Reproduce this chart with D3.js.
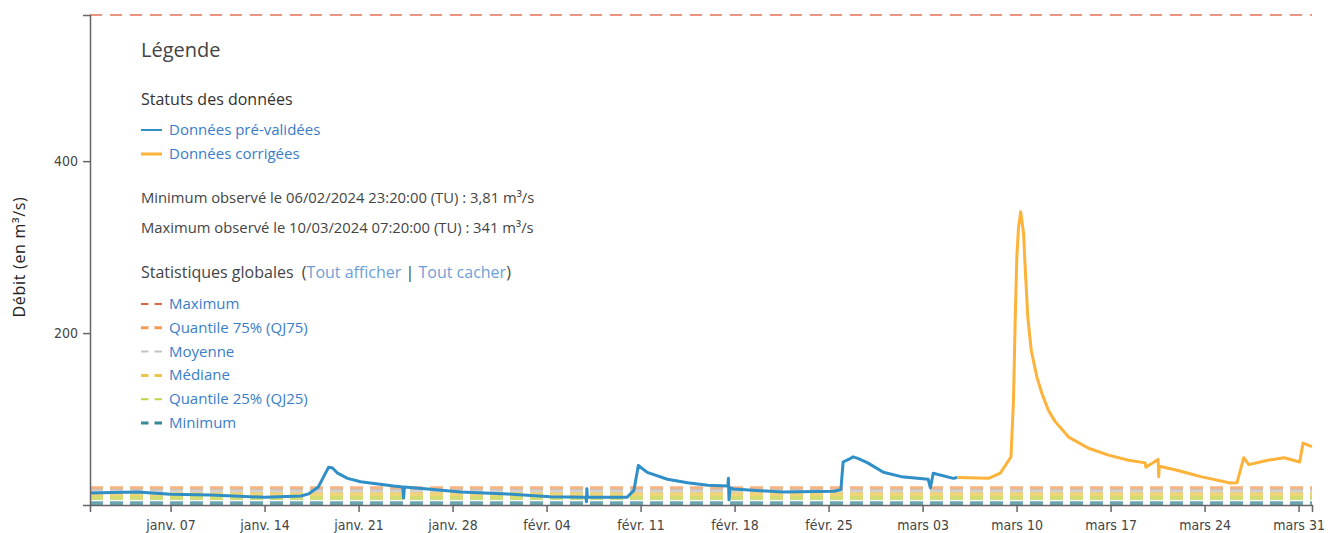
<!DOCTYPE html>
<meta charset="utf-8">
<style>
body { margin: 0; background: #fff; }
.axis text { font-family: "Liberation Sans Narrow", "DejaVu Sans Condensed", sans-serif; font-size: 14px; fill: #444; }
.axis path, .axis line { stroke: #666; stroke-width: 1.5px; }
.leg { font-family: "Open Sans", "Noto Sans", sans-serif; }
.link { fill: #3a7dc9; }
</style>
<body>
<script src="https://cdn.jsdelivr.net/npm/d3@7"></script>
<script>

// débits pré-validés (bleu)
var preDates = ["2024-01-01T00:00","2024-01-04T12:00","2024-01-07T00:00","2024-01-10T00:00","2024-01-14T00:00",
  "2024-01-16T17:00","2024-01-17T07:00","2024-01-18T00:00","2024-01-18T09:40","2024-01-18T18:30","2024-01-19T01:30",
  "2024-01-19T10:30","2024-01-20T04:20","2024-01-21T03:40","2024-01-23T14:30","2024-01-24T07:00","2024-01-24T08:30",
  "2024-01-24T10:00","2024-01-26T03:20","2024-01-28T14:30","2024-02-01T02:30","2024-02-04T07:00","2024-02-06T22:00",
  "2024-02-06T23:20","2024-02-07T00:00","2024-02-07T01:00","2024-02-10T00:00","2024-02-10T12:00","2024-02-10T17:00",
  "2024-02-10T20:00","2024-02-11T12:00","2024-02-13T00:00","2024-02-14T12:00","2024-02-16T00:00","2024-02-17T12:00",
  "2024-02-17T13:00","2024-02-17T14:00","2024-02-17T16:00","2024-02-17T22:00","2024-02-21T14:00","2024-02-25T10:00",
  "2024-02-25T22:00","2024-02-26T02:00","2024-02-26T11:45","2024-02-26T20:00","2024-02-27T05:30","2024-02-27T22:00",
  "2024-02-29T02:00","2024-03-01T10:00","2024-03-03T10:00","2024-03-03T14:00","2024-03-03T19:00","2024-03-05T07:00",
  "2024-03-05T14:00"];
var preValues = [14,15,12.5,11.5,9, 10.5,13,21,33,44,43, 37,31,27,22,21,8,
  21,18.6,15,12.8,9.5,9, 3.81,19,9,9,17,35, 46,38,30,26,23,22,
  31,6,20,18.6,15,16, 18,50,53,56,54,49, 38,33,30,20,37,31, 32];

// débits corrigés (orange)
var corDates = ["2024-03-05T14:00","2024-03-07T22:00","2024-03-08T19:00","2024-03-09T01:00","2024-03-09T14:00",
  "2024-03-09T18:30","2024-03-09T21:40","2024-03-10T00:30","2024-03-10T03:30","2024-03-10T07:20","2024-03-10T12:30",
  "2024-03-10T15:20","2024-03-10T20:00","2024-03-11T02:10","2024-03-11T12:15","2024-03-11T21:10","2024-03-12T09:00",
  "2024-03-12T21:00","2024-03-13T21:00","2024-03-15T08:40","2024-03-16T20:20","2024-03-18T08:10","2024-03-19T14:00",
  "2024-03-19T15:00","2024-03-20T13:00","2024-03-20T14:00","2024-03-20T15:00","2024-03-21T19:00","2024-03-22T19:00",
  "2024-03-23T17:00","2024-03-25T22:00","2024-03-26T10:00","2024-03-26T22:00","2024-03-27T07:00","2024-03-28T17:00",
  "2024-03-29T22:00","2024-03-31T02:00","2024-03-31T08:00","2024-03-31T23:50"];
var corValues = [32,31,37,43,56, 122,219,289,323,341,316, 277,219,180,149,130,110,
  97,79,66,58,52,49, 44,53,33,45,41,37, 33,25.6,26,55,47,52, 55,50,72,68];

// statistiques globales
var statNames = ["Maximum", "Quantile 75% (QJ75)", "Moyenne", "Médiane", "Quantile 25% (QJ25)", "Minimum"];
var statValues = [570, 19.5, 16.5, 12.5, 8, 2];
var statColors = ["#e0684a", "#f39a55", "#c4c4c4", "#e9c64c", "#c3d14a", "#3a8796"];

var yTicks = [200, 400];
var shortMonths = ["janv.", "févr.", "mars", "avr.", "mai", "juin", "juil.", "août", "sept.", "oct.", "nov.", "déc."];

var margin = {top: 15, right: 16, bottom: 28, left: 90},
    width = 1328 - margin.left - margin.right,
    height = 533 - margin.top - margin.bottom;

var parse = d3.timeParse("%Y-%m-%dT%H:%M");
var fr = d3.timeFormatLocale({
  dateTime: "%A %e %B %Y à %X", date: "%d/%m/%Y", time: "%H:%M:%S",
  periods: ["AM", "PM"],
  days: ["dimanche","lundi","mardi","mercredi","jeudi","vendredi","samedi"],
  shortDays: ["dim.","lun.","mar.","mer.","jeu.","ven.","sam."],
  months: ["janvier","février","mars","avril","mai","juin","juillet","août","septembre","octobre","novembre","décembre"],
  shortMonths: shortMonths
});

var pre = preDates.map(function(d, i) { return {t: parse(d), v: preValues[i]}; });
var cor = corDates.map(function(d, i) { return {t: parse(d), v: corValues[i]}; });

var x = d3.scaleTime()
    .domain([parse("2024-01-01T00:00"), parse("2024-04-01T00:00")])
    .range([0, width]);
var y = d3.scaleLinear()
    .domain([0, statValues[0]])
    .range([height, 0]);

var svg = d3.select("body").append("svg")
    .attr("width", 1328)
    .attr("height", 533)
  .append("g")
    .attr("transform", "translate(" + margin.left + "," + margin.top + ")");

// statistiques (lignes pointillées)
svg.selectAll(".stat")
    .data(statValues)
  .enter().append("line")
    .attr("class", "stat")
    .attr("x1", 0).attr("x2", width)
    .attr("y1", function(d) { return y(d); })
    .attr("y2", function(d) { return y(d); })
    .attr("stroke", function(d, i) { return statColors[i]; })
    .attr("stroke-width", function(d, i) { return i == 0 ? 2 : 4; })
    .attr("stroke-opacity", function(d, i) { return i == 0 ? 0.7 : 0.75; })
    .attr("stroke-dasharray", function(d, i) { return i == 0 ? "12,8" : "13,7"; });

var line = d3.line()
    .x(function(d) { return x(d.t); })
    .y(function(d) { return y(d.v); });

svg.append("path").datum(pre)
    .attr("fill", "none").attr("stroke", "#2f8fc6").attr("stroke-width", 3)
    .attr("stroke-linejoin", "round")
    .attr("d", line);
svg.append("path").datum(cor)
    .attr("fill", "none").attr("stroke", "#fdb23a").attr("stroke-width", 3)
    .attr("stroke-linejoin", "round")
    .attr("d", line);

// axes
svg.append("g")
    .attr("class", "axis")
    .attr("transform", "translate(0," + height + ")")
    .call(d3.axisBottom(x).ticks(d3.timeWeek.every(1)).tickFormat(fr.format("%b %d")).tickSizeOuter(7).tickSize(7))
    .call(function(g) { g.selectAll("text").attr("dy", "1.05em"); });

svg.append("g")
    .attr("class", "axis")
    .call(d3.axisLeft(y).tickValues(yTicks).tickSize(7).tickSizeOuter(7).tickPadding(5));

d3.select("svg").append("text")
    .attr("transform", "translate(25,257) rotate(-90)")
    .attr("text-anchor", "middle")
    .style("font-family", "'Open Sans', sans-serif")
    .style("font-size", "16px")
    .style("letter-spacing", "0.7px")
    .style("fill", "#222")
    .text("Débit (en m³/s)");

// légende
var leg = d3.select("svg").append("g").attr("class", "leg");

leg.append("text").attr("x", 141).attr("y", 57).style("font-size", "20px").style("fill", "#444").text("Légende");
leg.append("text").attr("x", 141).attr("y", 105).style("font-size", "16px").style("fill", "#333").text("Statuts des données");

var statuts = [["Données pré-validées", "#2f8fc6"], ["Données corrigées", "#fdb23a"]];
statuts.forEach(function(s, i) {
  var yy = 130 + i * 24;
  leg.append("line").attr("x1", 141).attr("x2", 162).attr("y1", yy).attr("y2", yy)
      .attr("stroke", s[1]).attr("stroke-width", i == 0 ? 2 : 3);
  leg.append("text").attr("class", "link").attr("x", 169).attr("y", yy + 5).style("font-size", "15px").text(s[0]);
});

leg.append("text").attr("x", 141).attr("y", 203).style("font-size", "14.8px").style("fill", "#444")
    .text("Minimum observé le 06/02/2024 23:20:00 (TU) : 3,81 m³/s");
leg.append("text").attr("x", 141).attr("y", 233).style("font-size", "14.8px").style("fill", "#444")
    .text("Maximum observé le 10/03/2024 07:20:00 (TU) : 341 m³/s");

var sg = leg.append("text").attr("x", 141).attr("y", 278).style("font-size", "16px").style("fill", "#444");
sg.append("tspan").text("Statistiques globales\u00a0\u00a0(");
sg.append("tspan").style("fill", "#6e9ed8").text("Tout afficher");
sg.append("tspan").text(" | ");
sg.append("tspan").style("fill", "#6e9ed8").text("Tout cacher");
sg.append("tspan").text(")");

statNames.forEach(function(n, i) {
  var yy = 304 + i * 23.8;
  leg.append("line").attr("x1", 141).attr("x2", 162).attr("y1", yy).attr("y2", yy)
      .attr("stroke", statColors[i]).attr("stroke-width", i % 2 ? 3 : 2)
      .attr("stroke-dasharray", "7.5,6");
  leg.append("text").attr("class", "link").attr("x", 169).attr("y", yy + 5).style("font-size", "15px").text(n);
});

</script>
</body>
